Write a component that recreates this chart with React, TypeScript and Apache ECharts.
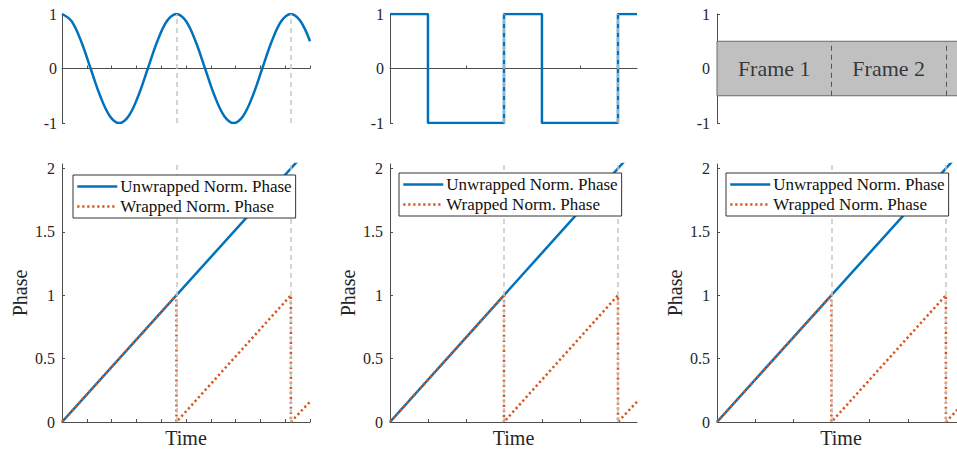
import React, { useEffect, useRef } from "react";
import * as echarts from "echarts";

// ---------------- data ----------------
const X_END = 2.167; // time span shown in every panel (periods)
const frameBoundaries = [1, 2];

const sineTime = [0, 0.083, 0.167, 0.25, 0.333, 0.417, 0.5, 0.583, 0.667, 0.75, 0.833, 0.917, 1, 1.083, 1.167, 1.25, 1.333, 1.417, 1.5, 1.583, 1.667, 1.75, 1.833, 1.917, 2, 2.083, 2.167];
const sineValue = [1, 0.87, 0.5, 0, -0.5, -0.87, -1, -0.87, -0.5, 0, 0.5, 0.87, 1, 0.87, 0.5, 0, -0.5, -0.87, -1, -0.87, -0.5, 0, 0.5, 0.87, 1, 0.87, 0.5];

const squareTime = [0, 0.333, 0.333, 1, 1, 1.333, 1.333, 2, 2, 2.167];
const squareValue = [1, 1, -1, -1, 1, 1, -1, -1, 1, 1];

const unwrapTime = [0, 2.167];
const unwrapValue = [0, 2.167];

const wrapTime = [0, 1, 1, 2, 2, 2.167];
const wrapValue = [0, 1, 0, 1, 0, 0.16];

const frameNames = ["Frame 1", "Frame 2"];
const frameCenters = [0.5, 1.5];

const unitTicks = [-1, 0, 1];
const phaseTicks = [0, 0.5, 1, 1.5, 2];
const fineTimeTicks = [0, 0.217, 0.433, 0.65, 0.867, 1.083, 1.3, 1.517, 1.733, 1.95, 2.167];
const thirdTimeTicks = [0, 0.333, 0.667, 1, 1.333, 1.667, 2];

const UNWRAP = "Unwrapped Norm. Phase";
const WRAP = "Wrapped Norm. Phase";

// ---------------- style ----------------
const FONT = "'Liberation Serif', 'Times New Roman', serif";
const BLUE = "#0072BD";
const ORANGE = "#D95319";
const AXIS = "#4d4d4d";
const TEXT = "#262626";

const cols = [
  { left: 62, width: 248, ticks: fineTimeTicks, legendLeft: 73, legendTop: 175, labelMargin: 5 },
  { left: 390, width: 247, ticks: thirdTimeTicks, legendLeft: 399, legendTop: 173, labelMargin: 6 },
  { left: 717, width: 248, ticks: thirdTimeTicks, legendLeft: 726, legendTop: 173, labelMargin: 7 },
];

const zip = (a: number[], b: number[]) => a.map((v, i) => [v, b[i]]);

function buildOption() {
  const grid: any[] = [];
  const xAxis: any[] = [];
  const yAxis: any[] = [];
  const series: any[] = [];
  const legend: any[] = [];

  const grayVerticals = {
    silent: true,
    symbol: ["none", "none"],
    label: { show: false },
    lineStyle: { color: "#c6c6c6", type: [5, 4], width: 1.5 },
    emphasis: { disabled: true },
    data: frameBoundaries.map((b) => ({ xAxis: b })),
  };

  cols.forEach((c) => {
    grid.push({ left: c.left, width: c.width, top: 14, height: 109, outerBoundsMode: "none", containLabel: false });
  });
  cols.forEach((c) => {
    grid.push({ left: c.left, width: c.width, top: 164, height: 258, outerBoundsMode: "none", containLabel: false });
  });

  const tickStyle = { color: AXIS, width: 1 };
  const lineStyle = { color: AXIS, width: 1 };

  for (let g = 0; g < 6; g++) {
    const c = cols[g % 3];
    const top = g < 3;
    const hideX = g === 2;
    xAxis.push({
      type: "value",
      gridIndex: g,
      min: 0,
      max: X_END,
      axisLine: { show: !hideX, onZero: true, lineStyle },
      axisTick: { show: !hideX, inside: true, length: 3, customValues: c.ticks, lineStyle: tickStyle },
      axisLabel: { show: false },
      splitLine: { show: false },
      name: top ? "" : "Time",
      nameLocation: "middle",
      nameGap: 6,
      nameTextStyle: { fontFamily: FONT, fontSize: 20, color: TEXT },
    });
    yAxis.push({
      type: "value",
      gridIndex: g,
      min: top ? -1 : 0,
      max: top ? 1 : 2.035,
      axisLine: { show: true, onZero: false, lineStyle },
      axisTick: { show: true, inside: true, length: 3, customValues: top ? unitTicks : phaseTicks, lineStyle: tickStyle },
      axisLabel: {
        customValues: top ? unitTicks : phaseTicks,
        fontFamily: FONT,
        fontSize: 16,
        color: TEXT,
        margin: top ? c.labelMargin : 7,
      },
      splitLine: { show: false },
      name: top ? "" : "Phase",
      nameLocation: "middle",
      nameGap: 32,
      nameRotate: 90,
      nameTextStyle: { fontFamily: FONT, fontSize: 20, color: TEXT },
    });
  }

  // top-left: sine
  series.push({
    type: "line",
    xAxisIndex: 0,
    yAxisIndex: 0,
    data: zip(sineTime, sineValue),
    smooth: 0.35,
    showSymbol: false,
    symbol: "none",
    lineStyle: { color: BLUE, width: 2.5 },
    emphasis: { disabled: true },
    markLine: grayVerticals,
  });

  // top-middle: square
  series.push({
    type: "line",
    xAxisIndex: 1,
    yAxisIndex: 1,
    data: zip(squareTime, squareValue),
    showSymbol: false,
    symbol: "none",
    lineStyle: { color: BLUE, width: 2.5 },
    emphasis: { disabled: true },
    markLine: grayVerticals,
  });

  // top-right: frames
  series.push({
    type: "line",
    xAxisIndex: 2,
    yAxisIndex: 2,
    data: [],
    showSymbol: false,
    markArea: {
      silent: true,
      itemStyle: { color: "#c0c0c0", borderColor: "#6a6a6a", borderWidth: 1 },
      label: { show: false },
      data: [[{ xAxis: 0, yAxis: -0.5 }, { xAxis: X_END, yAxis: 0.5 }]],
    },
    markLine: {
      silent: true,
      symbol: ["none", "none"],
      label: { show: false },
      lineStyle: { color: "#555555", type: [5, 4], width: 1 },
      emphasis: { disabled: true },
      data: frameBoundaries.map((b) => [{ coord: [b, -0.5] }, { coord: [b, 0.5] }]),
    },
  });
  series.push({
    type: "scatter",
    xAxisIndex: 2,
    yAxisIndex: 2,
    symbolSize: 0,
    silent: true,
    z: 4,
    data: frameCenters.map((x, i) => ({ value: [x, 0], name: frameNames[i] })),
    label: {
      show: true,
      position: "inside",
      formatter: "{b}",
      fontFamily: FONT,
      fontSize: 22,
      color: "#111",
    },
    emphasis: { disabled: true },
  });

  // bottom row: phases
  for (let i = 0; i < 3; i++) {
    const g = 3 + i;
    series.push({
      name: UNWRAP,
      type: "line",
      xAxisIndex: g,
      yAxisIndex: g,
      data: zip(unwrapTime, unwrapValue),
      showSymbol: false,
      symbol: "none",
      clip: true,
      lineStyle: { color: BLUE, width: 2.5 },
      itemStyle: { color: BLUE },
      emphasis: { disabled: true },
      markLine: grayVerticals,
    });
    series.push({
      name: WRAP,
      type: "line",
      xAxisIndex: g,
      yAxisIndex: g,
      data: zip(wrapTime, wrapValue),
      showSymbol: false,
      symbol: "none",
      clip: true,
      lineStyle: { color: ORANGE, width: 2.5, type: [2.2, 2.8] },
      itemStyle: { color: ORANGE },
      emphasis: { disabled: true },
    });
    const c = cols[i];
    legend.push({
      show: true,
      orient: "vertical",
      left: c.legendLeft,
      top: c.legendTop,
      z: 10,
      data: [UNWRAP, WRAP],
      selectedMode: false,
      backgroundColor: "#ffffff",
      borderColor: "#333333",
      borderWidth: 1,
      borderRadius: 0,
      padding: [3, 4, 3, 3],
      itemGap: 3,
      itemWidth: 40,
      itemHeight: 16,
      itemStyle: { opacity: 0, borderWidth: 0 },
      lineStyle: { width: 2.5 },
      textStyle: { fontFamily: FONT, fontSize: 17, color: "#111", padding: [0, 0, 0, -2] },
    });
  }

  return {
    animation: false,
    backgroundColor: "#ffffff",
    textStyle: { fontFamily: FONT },
    grid,
    xAxis,
    yAxis,
    legend,
    series,
  };
}

export default function App() {
  const ref = useRef<HTMLDivElement>(null);
  useEffect(() => {
    if (!ref.current) return;
    const chart = echarts.init(ref.current, undefined, { renderer: "svg" });
    chart.setOption(buildOption() as any);
    return () => chart.dispose();
  }, []);
  return (
    <div
      ref={ref}
      style={{ position: "absolute", left: 0, top: 0, width: 957, height: 451, background: "#fff" }}
    />
  );
}
